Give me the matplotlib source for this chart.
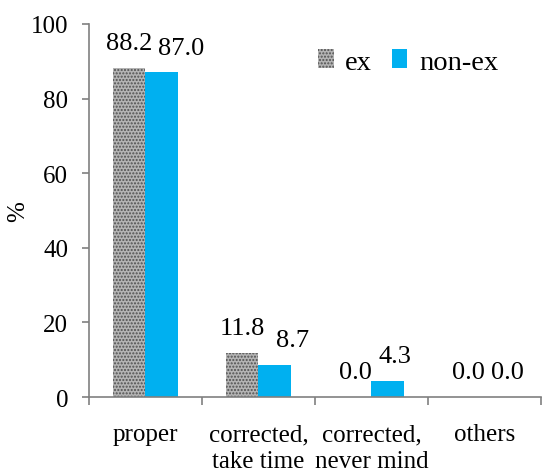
import matplotlib
matplotlib.use("Agg")
import matplotlib.pyplot as plt
import numpy as np
from matplotlib.patches import Patch

plt.rcParams['font.family'] = ['Liberation Serif', 'DejaVu Serif']
plt.rcParams['hatch.linewidth'] = 1.0

categories = ["proper", "corrected,\ntake time", "corrected,\nnever mind", "others"]
ex_values = [88.2, 11.8, 0.0, 0.0]
nonex_values = [87.0, 8.7, 4.3, 0.0]
series_names = ["ex", "non-ex"]
yticks = [0, 20, 40, 60, 80, 100]

# horizontal nudges (points) for the value labels of the second series
nonex_label_dx = [14, 13, 5, 5]

fig = plt.figure(figsize=(5.42, 4.77), dpi=100)
ax = fig.add_axes([0.164, 0.1656, 0.834, 0.782])

x = np.arange(len(categories))
w = 0.286
fs = 18
fs_val = 19

ex_face, ex_hatch_col, nonex_col = '#b4b4b4', '#505050', '#00b0f0'

bars_ex = ax.bar(x - w / 2, ex_values, width=w, facecolor=ex_face,
                 edgecolor=ex_hatch_col, hatch='.....', linewidth=0)
bars_non = ax.bar(x + w / 2, nonex_values, width=w, color=nonex_col, linewidth=0)

for b, v in zip(bars_ex, ex_values):
    ax.annotate(f"{v:.1f}", (b.get_x() + b.get_width() / 2, v),
                xytext=(0, 13.5), textcoords='offset points',
                ha='center', va='baseline', fontsize=fs_val)
for b, v, dx in zip(bars_non, nonex_values, nonex_label_dx):
    ax.annotate(f"{v:.1f}", (b.get_x() + b.get_width() / 2, v),
                xytext=(dx, 13.5), textcoords='offset points',
                ha='center', va='baseline', fontsize=fs_val)

ax.set_xlim(-0.5, len(categories) - 0.5)
ax.set_ylim(0, 100)
ax.set_yticks(yticks)
ax.tick_params(axis='y', labelsize=fs, length=5, color='#808080', width=1.2, pad=10)
ax.set_xticks(x)
ax.set_xticklabels(categories, fontsize=fs, linespacing=1.3)
ax.tick_params(axis='x', which='major', length=0, pad=19)
ax.set_xticks(np.arange(len(categories) + 1) - 0.5, minor=True)
ax.tick_params(axis='x', which='minor', length=6, color='#808080', width=1.2)

for s in ['top', 'right']:
    ax.spines[s].set_visible(False)
for s in ['left', 'bottom']:
    ax.spines[s].set_color('#808080')
    ax.spines[s].set_linewidth(1.2)

fig.text(18 / 542, 1 - 212 / 477, "%", rotation=90, fontsize=fs,
         ha='center', va='center')

handles = [Patch(facecolor=ex_face, edgecolor=ex_hatch_col, hatch='.....', linewidth=0),
           Patch(facecolor=nonex_col, linewidth=0)]
ax.legend(handles, series_names, loc='center right',
          bbox_to_anchor=(498 / 542, 1 - 63 / 477), bbox_transform=fig.transFigure,
          ncol=2, frameon=False, fontsize=20.5, handlelength=0.55,
          handleheight=0.6, handletextpad=0.4, columnspacing=0.7,
          borderpad=0, borderaxespad=0)

fig.savefig("out.png", dpi=100)
